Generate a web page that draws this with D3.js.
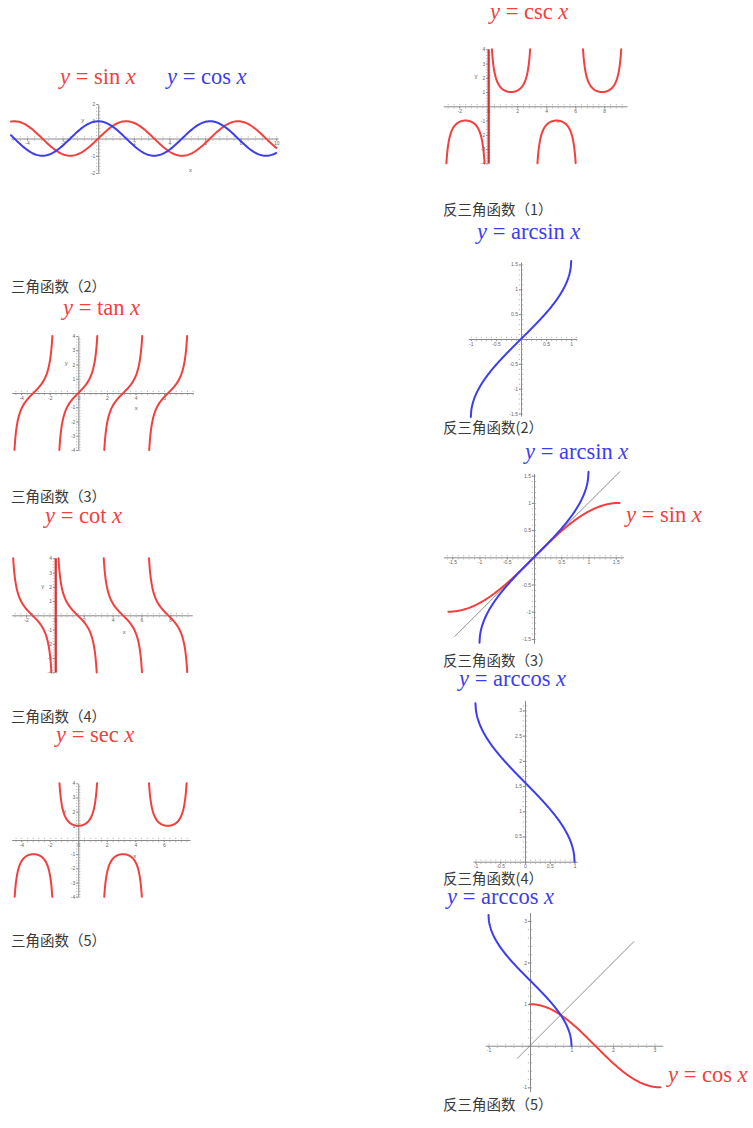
<!DOCTYPE html>
<html><head><meta charset="utf-8">
<script src="https://cdn.jsdelivr.net/npm/d3@7"></script>
<style>
body{margin:0;background:#fff;}
svg{display:block;}
.cap{font-family:"Noto Sans CJK SC","Noto Sans CJK JP",sans-serif;font-size:14.5px;fill:#3a3a3a;}
.ttl{font-family:"Liberation Serif","DejaVu Serif",serif;font-size:22.5px;}
.ax path,.ax line{stroke:#8a8a8a;stroke-width:1;}
.mn line{stroke:#a8a8a8;stroke-width:0.8;}
.ax text{font-family:"Liberation Sans",Arial,sans-serif;font-size:5px;fill:#666;}
.lbl{font-family:"Liberation Sans",Arial,sans-serif;font-size:6px;fill:#666;}
</style></head>
<body>
<svg id="c" width="753" height="1128"></svg>
<script>
// ---------- data ----------
const RED = "#f2403f", BLUE = "#3d3df0", GRAY = "#7a7a7a";
const captions = [
  ["三角函数（2）", 11, 292], ["三角函数（3）", 11, 502], ["三角函数（4）", 11, 722], ["三角函数（5）", 11, 946],
  ["反三角函数（1）", 443, 215], ["反三角函数(2）", 443, 433], ["反三角函数（3）", 443, 666],
  ["反三角函数(4）", 443, 884], ["反三角函数（5）", 443, 1110]
];
const titles = [ // [function name, colour, x, baseline]
  ["sin", RED, 60, 84], ["cos", BLUE, 167, 84], ["csc", RED, 490, 19], ["tan", RED, 63, 315],
  ["cot", RED, 45, 523], ["sec", RED, 56, 742], ["arcsin", BLUE, 477, 239], ["arcsin", BLUE, 525, 459],
  ["sin", RED, 626, 522], ["arccos", BLUE, 459, 686], ["arccos", BLUE, 447, 904], ["cos", RED, 668, 1082]
];
const sincosDomain = [-4.9, 10];
const trigXTicks = [-4, -2, 2, 4, 6, 8, 10];
const trigYTicks = [-4, -3, -2, -1, 1, 2, 3, 4];
const sincosYTicks = [-2, -1, 1, 2];
const cscBranches = [[-2.889, -0.253], [0.253, 2.889], [3.394, 6.030], [6.536, 9.172]];
const tanBranches = [[-4.467, -1.816], [-1.326, 1.326], [1.816, 4.467], [4.957, 7.609]];
const cotBranches = [[-2.897, -0.245], [0.245, 2.897], [3.386, 6.038], [6.528, 9.179]];
const secBranches = [[-4.460, -1.823], [-1.318, 1.318], [1.823, 4.460], [4.965, 7.601]];
const invTicksHalf = [-1.5, -1, -0.5, 0.5, 1, 1.5];
const acosYTicks = [0.5, 1, 1.5, 2, 2.5, 3];
const acos2XTicks = [-1, 1, 2, 3];
const acos2YTicks = [-1, 1, 2, 3];
const invDomain = [-1, 1];
const diagAsin = [-1.45, 1.57];
const diagAcos = [-0.3, 2.5];
const cosDomain = [0, Math.PI];
const sinHalfDomain = [-Math.PI / 2, Math.PI / 2];

const funcs = {
  sin: Math.sin, cos: Math.cos, tan: Math.tan,
  cot: v => 1 / Math.tan(v), sec: v => 1 / Math.cos(v), csc: v => 1 / Math.sin(v),
  asin: Math.asin, acos: Math.acos, id: v => v
};

// ---------- drawing ----------
const svg = d3.select("#c");
const fmt = v => (v === 0 ? "0" : String(v));

function panel(cfg) {
  const x = d3.scaleLinear().domain(cfg.xd).range(cfg.xr);
  const y = d3.scaleLinear().domain(cfg.yd).range(cfg.yr);
  const g = svg.append("g");
  const x0 = x(0), y0 = y(0);
  const minorX = d3.range(Math.ceil(cfg.xd[0] / cfg.xm) * cfg.xm, cfg.xd[1], cfg.xm);
  const minorY = d3.range(Math.ceil(cfg.yd[0] / cfg.ym) * cfg.ym, cfg.yd[1], cfg.ym);
  // minor ticks
  g.append("g").attr("class", "ax mn").attr("transform", `translate(0,${y0 + 1})`)
    .call(d3.axisBottom(x).tickValues(minorX).tickSize(1.2).tickSizeOuter(0).tickFormat(""))
    .call(s => s.select(".domain").remove());
  g.append("g").attr("class", "ax mn").attr("transform", `translate(0,${y0 - 1})`)
    .call(d3.axisTop(x).tickValues(minorX).tickSize(1.2).tickSizeOuter(0).tickFormat(""))
    .call(s => s.select(".domain").remove());
  g.append("g").attr("class", "ax mn").attr("transform", `translate(${x0 - 1},0)`)
    .call(d3.axisLeft(y).tickValues(minorY).tickSize(1.2).tickSizeOuter(0).tickFormat(""))
    .call(s => s.select(".domain").remove());
  g.append("g").attr("class", "ax mn").attr("transform", `translate(${x0 + 1},0)`)
    .call(d3.axisRight(y).tickValues(minorY).tickSize(1.2).tickSizeOuter(0).tickFormat(""))
    .call(s => s.select(".domain").remove());
  // main axes
  g.append("g").attr("class", "ax").attr("transform", `translate(0,${y0})`)
    .call(d3.axisBottom(x).tickValues(cfg.xt).tickSize(2).tickSizeOuter(0).tickPadding(1).tickFormat(fmt));
  g.append("g").attr("class", "ax").attr("transform", `translate(${x0},0)`)
    .call(d3.axisLeft(y).tickValues(cfg.yt).tickSize(2).tickSizeOuter(0).tickPadding(1).tickFormat(fmt))
    .call(s => s.selectAll("text").attr("dy", "0.3em"));
  if (cfg.axisLabels) {
    g.append("text").attr("class", "lbl").attr("x", x(cfg.axisLabels[0][0])).attr("y", y(cfg.axisLabels[0][1])).text("x");
    g.append("text").attr("class", "lbl").attr("x", x(cfg.axisLabels[1][0])).attr("y", y(cfg.axisLabels[1][1])).text("y");
  }
  const line = d3.line().x(d => x(d[0])).y(d => y(d[1]));
  (cfg.curves || []).forEach(c => {
    const n = 240, pts = [];
    for (let i = 0; i <= n; i++) {
      const v = c.from + (c.to - c.from) * i / n;
      pts.push([v, funcs[c.f](v)]);
    }
    g.append("path").attr("d", line(pts)).attr("fill", "none")
      .attr("stroke", c.color).attr("stroke-width", c.w || 2).attr("stroke-linecap", "round");
  });
  (cfg.vlines || []).forEach(v => {
    g.append("line").attr("x1", x(v)).attr("x2", x(v)).attr("y1", y(cfg.yd[0])).attr("y2", y(cfg.yd[1]))
      .attr("stroke", RED).attr("stroke-width", 2.2);
    g.append("line").attr("x1", x(v) + 0.4).attr("x2", x(v) + 0.4).attr("y1", y(cfg.yd[0])).attr("y2", y(cfg.yd[1]))
      .attr("stroke", "#8a2020").attr("stroke-width", 0.6);
  });
}

// sin & cos
panel({xd: [-4.9, 10.1], xr: [11, 278], yd: [-2, 2], yr: [173, 104], xt: trigXTicks, yt: sincosYTicks, xm: 0.4, ym: 0.2,
  axisLabels: [[5.1, -1.95], [-0.95, 0.95]],
  curves: [{f: "sin", from: sincosDomain[0], to: sincosDomain[1], color: RED},
           {f: "cos", from: sincosDomain[0], to: sincosDomain[1], color: BLUE}]});
// csc
panel({xd: [-3.1, 9.57], xr: [443.3, 627], yd: [-4, 4], yr: [163.3, 49.3], xt: [-2, 0, 2, 4, 6, 8], yt: trigYTicks, xm: 0.4, ym: 0.2,
  axisLabels: [[4.7, -1.2], [-0.95, 2]],
  vlines: [0.02],
  curves: cscBranches.map(b => ({f: "csc", from: b[0], to: b[1], color: RED}))});
// tan
panel({xd: [-4.66, 8.04], xr: [11.7, 193.3], yd: [-4, 4], yr: [450, 336], xt: [-4, -2, 0, 2, 4, 6], yt: trigYTicks, xm: 0.4, ym: 0.2,
  axisLabels: [[3.95, -1.2], [-0.95, 2]],
  curves: tanBranches.map(b => ({f: "tan", from: b[0], to: b[1], color: RED}))});
// cot
panel({xd: [-3.0, 9.53], xr: [11.7, 192.3], yd: [-4, 4], yr: [672.3, 558.3], xt: [-2, 0, 2, 4, 6, 8], yt: trigYTicks, xm: 0.4, ym: 0.2,
  axisLabels: [[4.7, -1.3], [-0.95, 1.9]],
  vlines: [0.05],
  curves: cotBranches.map(b => ({f: "cot", from: b[0], to: b[1], color: RED}))});
// sec
panel({xd: [-4.67, 7.84], xr: [11.7, 190], yd: [-4, 4], yr: [896.7, 783.3], xt: [-4, -2, 0, 2, 4, 6], yt: trigYTicks, xm: 0.4, ym: 0.2,
  axisLabels: [[3.85, -1.3], [-1.05, 1.9]],
  curves: secBranches.map(b => ({f: "sec", from: b[0], to: b[1], color: RED}))});
// arcsin (1)
panel({xd: [-1.05, 1.11], xr: [468.3, 576.7], yd: [-1.55, 1.55], yr: [416, 262], xt: [-1, -0.5, 0.5, 1], yt: invTicksHalf, xm: 0.1, ym: 0.1,
  curves: [{f: "asin", from: invDomain[0], to: invDomain[1], color: BLUE}]});
// arcsin & sin
panel({xd: [-1.66, 1.64], xr: [443.5, 623.4], yd: [-1.58, 1.54], yr: [643.3, 473.5], xt: invTicksHalf, yt: invTicksHalf, xm: 0.1, ym: 0.1,
  curves: [{f: "id", from: diagAsin[0], to: diagAsin[1], color: GRAY, w: 1},
           {f: "sin", from: sinHalfDomain[0], to: sinHalfDomain[1], color: RED},
           {f: "asin", from: invDomain[0], to: invDomain[1], color: BLUE}]});
// arccos (1)
panel({xd: [-1.05, 1.05], xr: [473, 577], yd: [-0.03, 3.2], yr: [863.2, 700.4], xt: [-1, -0.5, 0, 0.5, 1], yt: acosYTicks, xm: 0.1, ym: 0.1,
  curves: [{f: "acos", from: invDomain[0], to: invDomain[1], color: BLUE}]});
// arccos & cos
panel({xd: [-1.08, 3.2], xr: [485.2, 662.8], yd: [-1.1, 3.2], yr: [1091.5, 912.6], xt: acos2XTicks, yt: acos2YTicks, xm: 0.2, ym: 0.2,
  curves: [{f: "id", from: diagAcos[0], to: diagAcos[1], color: GRAY, w: 1},
           {f: "cos", from: cosDomain[0], to: cosDomain[1], color: RED},
           {f: "acos", from: invDomain[0], to: invDomain[1], color: BLUE}]});

// captions
svg.selectAll("text.cap").data(captions).join("text").attr("class", "cap")
  .attr("x", d => d[1]).attr("y", d => d[2]).text(d => d[0]);

// titles: y = name x
titles.forEach(t => {
  const tx = svg.append("text").attr("class", "ttl").attr("x", t[2]).attr("y", t[3]).attr("fill", t[1]);
  tx.append("tspan").attr("font-style", "italic").text("y");
  tx.append("tspan").text(" = " + t[0] + " ");
  tx.append("tspan").attr("font-style", "italic").text("x");
});
</script>
</body></html>
